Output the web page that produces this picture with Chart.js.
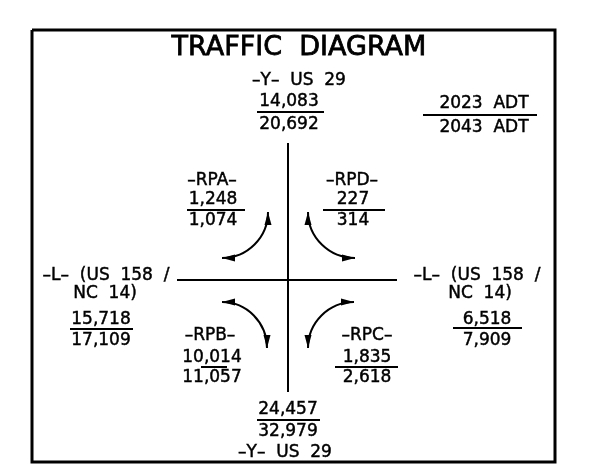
<!DOCTYPE html>
<html>
<head>
<meta charset="utf-8">
<script src="https://cdn.jsdelivr.net/npm/chart.js@4.4.1/dist/chart.umd.min.js"></script>
<style>
  html, body { margin: 0; padding: 0; background: #fff; }
  #wrap { width: 589px; height: 466px; }
</style>
</head>
<body>
<div id="wrap"><canvas id="diagram"></canvas></div>
<script>
// ---------- Data ---------- //
const title = "TRAFFIC  DIAGRAM";
const adtLabels = ["2023  ADT", "2043  ADT"];

const legs = ["north", "south", "west", "east"];
const legNames = [["–Y–  US  29"], ["–Y–  US  29"], ["–L–  (US  158  /", "NC  14)"], ["–L–  (US  158  /", "NC  14)"]];
const leg2023 = [14083, 24457, 15718, 6518];
const leg2043 = [20692, 32979, 17109, 7909];

const ramps = ["RPA", "RPB", "RPC", "RPD"];
const ramp2023 = [1248, 10014, 1835, 227];
const ramp2043 = [1074, 11057, 2618, 314];

// ---------- Layout (diagram units, mapped through the chart scales) ---------- //
const frameBox = [32, 30, 555, 462];
const roadV = [[288, 143], [288, 392]];
const roadH = [[177, 280], [397, 280]];

// name position(s), value x, first value y, bar [x1, x2, y], second value y
const legLayout = {
  north: { names: [[299, 81]], vx: 289, v1: 102, bar: [257, 324, 112], v2: 125 },
  south: { names: [[285, 453]], vx: 288, v1: 410, bar: [257, 320, 420], v2: 432 },
  west:  { names: [[106, 276], [105, 294]], vx: 101, v1: 320, bar: [70, 133, 329], v2: 341 },
  east:  { names: [[477, 276], [480, 294]], vx: 487, v1: 320, bar: [453, 522, 328], v2: 341 }
};
const adtLayout = { vx: 484, v1: 104, bar: [423, 537, 115], v2: 128 };

// ramp label + arc: start point, end point, corner the arc bends toward
const rampLayout = {
  RPA: { name: [212, 181], vx: 213, v1: 200, bar: [187, 245, 210], v2: 221, arc: [[268, 212], [222, 258], [268, 258]] },
  RPB: { name: [210, 336], vx: 212, v1: 358, bar: [201, 227, 367], v2: 378, arc: [[222, 302], [267, 348], [267, 302]] },
  RPC: { name: [367, 336], vx: 367, v1: 358, bar: [335, 398, 367], v2: 378, arc: [[354, 302], [308, 348], [308, 302]] },
  RPD: { name: [352, 181], vx: 353, v1: 200, bar: [323, 385, 210], v2: 221, arc: [[308, 212], [355, 258], [308, 258]] }
};

const FONT = '"DejaVu Sans", sans-serif';
const fmt = n => n.toLocaleString("en-US");

// ---------- Drawing helpers ---------- //
function px(chart, p) {
  return { x: chart.scales.x.getPixelForValue(p[0]), y: chart.scales.y.getPixelForValue(p[1]) };
}

// a thin stroke under the fill gives the heavier CAD-style lettering
function text(ctx, chart, str, p, size) {
  const q = px(chart, p);
  ctx.font = `${size}px ${FONT}`;
  ctx.save();
  ctx.lineWidth = size > 20 ? 0.8 : 0.45;
  ctx.strokeText(str, q.x, q.y);
  ctx.restore();
  ctx.fillText(str, q.x, q.y);
}

function fraction(ctx, chart, top, bottom, l) {
  text(ctx, chart, top, [l.vx, l.v1], 17);
  text(ctx, chart, bottom, [l.vx, l.v2], 17);
  const a = px(chart, [l.bar[0], l.bar[2]]);
  const b = px(chart, [l.bar[1], l.bar[2]]);
  ctx.beginPath();
  ctx.moveTo(a.x, a.y);
  ctx.lineTo(b.x, b.y);
  ctx.stroke();
}

function arrowHead(ctx, tip, from) {
  const dx = tip.x - from.x, dy = tip.y - from.y;
  const len = Math.hypot(dx, dy);
  const ux = dx / len, uy = dy / len;
  const L = 13, W = 3.5;
  ctx.beginPath();
  ctx.moveTo(tip.x, tip.y);
  ctx.lineTo(tip.x - ux * L - uy * W, tip.y - uy * L + ux * W);
  ctx.lineTo(tip.x - ux * L + uy * W, tip.y - uy * L - ux * W);
  ctx.closePath();
  ctx.fill();
}

function rampArc(ctx, chart, arc) {
  const a = px(chart, arc[0]), b = px(chart, arc[1]), c = px(chart, arc[2]);
  const k = 0.5523;
  ctx.beginPath();
  ctx.moveTo(a.x, a.y);
  ctx.bezierCurveTo(
    a.x + k * (c.x - a.x), a.y + k * (c.y - a.y),
    b.x + k * (c.x - b.x), b.y + k * (c.y - b.y),
    b.x, b.y
  );
  ctx.stroke();
  arrowHead(ctx, a, c);
  arrowHead(ctx, b, c);
}

const diagramLabels = {
  id: "diagramLabels",
  afterDraw(chart) {
    const ctx = chart.ctx;
    ctx.save();
    ctx.fillStyle = "#000";
    ctx.strokeStyle = "#000";
    ctx.lineWidth = 2;
    ctx.textAlign = "center";
    ctx.textBaseline = "middle";

    text(ctx, chart, title, [299, 48], 27);
    fraction(ctx, chart, adtLabels[0], adtLabels[1], adtLayout);

    legs.forEach((leg, i) => {
      const l = legLayout[leg];
      legNames[i].forEach((line, j) => text(ctx, chart, line, l.names[j], 17));
      fraction(ctx, chart, fmt(leg2023[i]), fmt(leg2043[i]), l);
    });

    ramps.forEach((r, i) => {
      const l = rampLayout[r];
      text(ctx, chart, `–${r}–`, l.name, 17);
      fraction(ctx, chart, fmt(ramp2023[i]), fmt(ramp2043[i]), l);
      rampArc(ctx, chart, l.arc);
    });
    ctx.restore();
  }
};

const toPts = arr => arr.map(p => ({ x: p[0], y: p[1] }));
const f = frameBox;

new Chart(document.getElementById("diagram"), {
  type: "scatter",
  data: {
    datasets: [
      { data: toPts([[f[0], f[1]], [f[2], f[1]], [f[2], f[3]], [f[0], f[3]], [f[0], f[1]]]), borderWidth: 3 },
      { data: toPts(roadV), borderWidth: 2 },
      { data: toPts(roadH), borderWidth: 2 }
    ].map(d => ({ ...d, showLine: true, borderColor: "#000", pointRadius: 0, fill: false, clip: false }))
  },
  options: {
    responsive: true,
    maintainAspectRatio: false,
    animation: false,
    layout: { padding: 0 },
    scales: {
      x: { type: "linear", min: 0, max: 589, display: false },
      y: { type: "linear", min: 0, max: 466, reverse: true, display: false }
    },
    plugins: { legend: { display: false }, tooltip: { enabled: false } }
  },
  plugins: [diagramLabels]
});
</script>
</body>
</html>
